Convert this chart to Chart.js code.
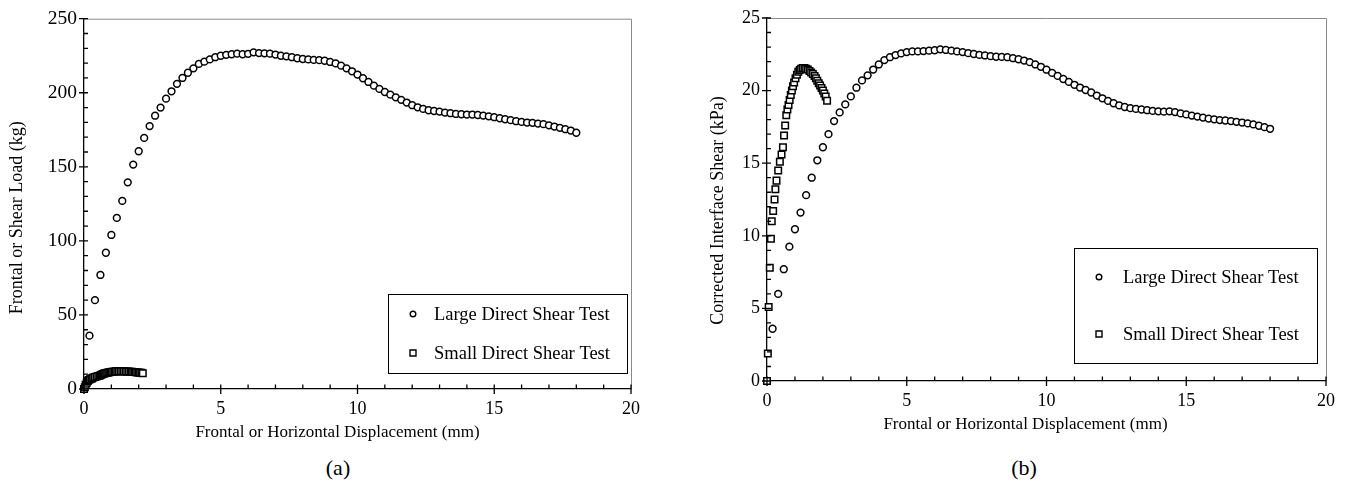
<!DOCTYPE html>
<html>
<head>
<meta charset="utf-8">
<script src="https://cdn.jsdelivr.net/npm/chart.js@4.4.0/dist/chart.umd.min.js"></script>
<style>
  body { margin: 0; background: #fff; width: 1349px; height: 490px; position: relative; overflow: hidden;
         font-family: "Liberation Serif", "Times New Roman", serif; }
  canvas { position: absolute; top: 0; }
  #chartA { left: 0; }
  #chartB { left: 680px; }
  .cap { position: absolute; top: 455px; font-size: 22px; color: #000; transform: translateX(-50%); line-height: 26px; }
</style>
</head>
<body>
<canvas id="chartA" width="660" height="450"></canvas>
<canvas id="chartB" width="669" height="450"></canvas>
<div class="cap" style="left:338px">(a)</div>
<div class="cap" style="left:1024px">(b)</div>
<script>
// displacement (mm) for the large direct shear test
const largeDisp = [
    0, 0.2, 0.4, 0.6, 0.8, 1.0, 1.2, 1.4, 1.6, 1.8,
    2.0, 2.2, 2.4, 2.6, 2.8, 3.0, 3.2, 3.4, 3.6, 3.8,
    4.0, 4.2, 4.4, 4.6, 4.8, 5.0, 5.2, 5.4, 5.6, 5.8,
    6.0, 6.2, 6.4, 6.6, 6.8, 7.0, 7.2, 7.4, 7.6, 7.8,
    8.0, 8.2, 8.4, 8.6, 8.8, 9.0, 9.2, 9.4, 9.6, 9.8,
    10.0, 10.2, 10.4, 10.6, 10.8, 11.0, 11.2, 11.4, 11.6, 11.8,
    12.0, 12.2, 12.4, 12.6, 12.8, 13.0, 13.2, 13.4, 13.6, 13.8,
    14.0, 14.2, 14.4, 14.6, 14.8, 15.0, 15.2, 15.4, 15.6, 15.8,
    16.0, 16.2, 16.4, 16.6, 16.8, 17.0, 17.2, 17.4, 17.6, 17.8,
    18.0
];
// (a) frontal / shear load, kg
const largeLoad = [
    0, 36, 60, 77, 92, 104, 115.5, 127, 139.5, 151.5,
    160.5, 169.5, 177.5, 184.5, 190, 196, 201, 206, 210, 213.5,
    216.5, 219.5, 221, 222.5, 224, 225, 225.6, 226, 226.4, 226,
    226.3, 227.3, 226.8, 226.6, 226.4, 225.8, 225, 224.6, 224, 223.3,
    222.8, 222.5, 222.2, 222, 221.6, 220.8, 219.8, 218.3, 216.5, 214.5,
    212.3, 209.8, 207.3, 204.8, 202.6, 200.5, 198.7, 196.9, 195.2, 193.4,
    191.6, 190.2, 189.1, 188.2, 187.7, 187.3, 186.6, 186.2, 185.7, 185.5,
    185.3, 185.3, 185, 184.6, 184.1, 183.5, 182.8, 182.1, 181.5, 180.8,
    180.3, 179.9, 179.7, 179.2, 178.8, 178, 177.2, 176.3, 175.4, 174.5,
    173
];
// (b) corrected interface shear, kPa
const largeShear = [
    0, 3.6, 6.0, 7.7, 9.25, 10.45, 11.6, 12.8, 14.0, 15.2,
    16.1, 17.0, 17.9, 18.5, 19.05, 19.6, 20.2, 20.7, 21.05, 21.45,
    21.8, 22.1, 22.3, 22.45, 22.56, 22.65, 22.7, 22.7, 22.72, 22.75,
    22.78, 22.84, 22.8, 22.75, 22.7, 22.65, 22.58, 22.52, 22.46, 22.42,
    22.37, 22.33, 22.32, 22.3, 22.23, 22.16, 22.07, 21.96, 21.8, 21.64,
    21.44, 21.22, 21.01, 20.8, 20.6, 20.4, 20.21, 20.04, 19.87, 19.66,
    19.47, 19.29, 19.13, 18.98, 18.87, 18.79, 18.74, 18.7, 18.65, 18.6,
    18.57, 18.55, 18.57, 18.52, 18.43, 18.36, 18.28, 18.21, 18.14, 18.07,
    18.02, 17.97, 17.94, 17.9, 17.85, 17.8, 17.74, 17.67, 17.58, 17.48,
    17.37
];

// small direct shear test
const smallDisp = [
    0, 0.03, 0.06, 0.10, 0.14, 0.17, 0.22, 0.27, 0.30, 0.34,
    0.40, 0.46, 0.52, 0.57, 0.61, 0.65, 0.69, 0.73, 0.77, 0.81,
    0.85, 0.89, 0.93, 0.97, 1.02, 1.07, 1.12, 1.17, 1.22, 1.28,
    1.34, 1.40, 1.46, 1.52, 1.58, 1.64, 1.70, 1.75, 1.80, 1.85,
    1.90, 1.95, 2.00, 2.05, 2.10, 2.15
];
const smallLoad = [
    0, 1.1, 2.8, 4.3, 5.4, 6.1, 6.5, 6.9, 7.3, 7.7,
    8.1, 8.4, 8.7, 8.9, 9.4, 9.8, 10.2, 10.4, 10.6, 10.8,
    10.9, 11.1, 11.3, 11.4, 11.6, 11.7, 11.8, 11.9, 11.95, 12.0,
    12.0, 11.95, 11.9, 11.85, 11.8, 11.75, 11.65, 11.6, 11.5, 11.4,
    11.3, 11.2, 11.1, 11.0, 10.9, 10.7
];
const smallShear = [
    0, 1.9, 5.1, 7.8, 9.8, 11.0, 11.7, 12.5, 13.2, 13.8,
    14.5, 15.1, 15.6, 16.1, 16.9, 17.6, 18.3, 18.7, 19.0, 19.35,
    19.7, 20.0, 20.3, 20.55, 20.85, 21.1, 21.3, 21.42, 21.5, 21.55,
    21.55, 21.5, 21.45, 21.35, 21.25, 21.15, 21.0, 20.85, 20.68, 20.5,
    20.35, 20.18, 20.0, 19.8, 19.6, 19.3
];

const seriesNames = ['Large Direct Shear Test', 'Small Direct Shear Test'];
const xTicks = [0, 5, 10, 15, 20];
const loadTicks = [0, 50, 100, 150, 200, 250];
const shearTicks = [0, 5, 10, 15, 20, 25];

const FONT = '"Liberation Serif", "Times New Roman", serif';

const toXY = (xs, ys) => xs.map((v, i) => ({ x: v, y: ys[i] }));

// frame, minor ticks, axis titles and boxed legend
const frameDeco = {
    id: 'frameDeco',
    afterDraw(chart, args, o) {
        const { ctx, chartArea: a } = chart;
        const x = chart.scales.x, y = chart.scales.y;
        ctx.save();
        ctx.strokeStyle = '#8a8a8a';
        ctx.lineWidth = 1;
        ctx.beginPath();
        ctx.moveTo(a.left, a.top + 0.5);
        ctx.lineTo(a.right + 0.5, a.top + 0.5);
        ctx.lineTo(a.right + 0.5, a.bottom);
        ctx.stroke();

        ctx.strokeStyle = '#000';
        ctx.lineWidth = 1.3;
        ctx.beginPath();
        let n = Math.round((x.max - x.min) / o.xMinor);
        for (let i = 0; i <= n; i++) {
            const px = x.getPixelForValue(x.min + i * o.xMinor);
            const major = i % o.xEvery === 0;
            ctx.moveTo(px, a.bottom - 4.5);
            ctx.lineTo(px, major ? a.bottom + 5 : a.bottom);
        }
        n = Math.round((y.max - y.min) / o.yMinor);
        for (let i = 0; i <= n; i++) {
            const py = y.getPixelForValue(y.min + i * o.yMinor);
            const major = i % o.yEvery === 0;
            ctx.moveTo(major ? a.left - 5 : a.left, py);
            ctx.lineTo(a.left + 4, py);
        }
        ctx.stroke();

        // axis titles
        ctx.fillStyle = '#000';
        ctx.font = '17px ' + FONT;
        ctx.textAlign = 'center';
        ctx.textBaseline = 'middle';
        ctx.fillText(o.xTitle, (a.left + a.right) / 2 + o.xTitleShift, o.xTitleY);
        ctx.save();
        ctx.font = '18px ' + FONT;
        ctx.translate(o.yTitleX, (a.top + a.bottom) / 2 + o.yTitleShift);
        ctx.rotate(-Math.PI / 2);
        ctx.fillText(o.yTitle, 0, 0);
        ctx.restore();

        // legend box
        const L = o.legend;
        const bx = a.right - L.right - L.w, by = a.bottom - L.bottom - L.h;
        ctx.fillStyle = '#fff';
        ctx.fillRect(bx, by, L.w, L.h);
        ctx.strokeStyle = '#000';
        ctx.lineWidth = 1;
        ctx.strokeRect(Math.round(bx) + 0.5, Math.round(by) + 0.5, L.w, L.h);
        ctx.font = '18.5px ' + FONT;
        ctx.textAlign = 'left';
        ctx.fillStyle = '#000';
        seriesNames.forEach((name, i) => {
            const ds = chart.data.datasets.find(d => d.label === name);
            const my = by + L.rows[i];
            const mx = bx + L.markX;
            ctx.lineWidth = 1.4;
            ctx.beginPath();
            if (ds.pointStyle === 'rect') {
                ctx.rect(mx - 3, my - 3, 6, 6);
            } else {
                ctx.arc(mx, my, 2.8, 0, Math.PI * 2);
            }
            ctx.stroke();
            ctx.fillText(name, bx + L.textX, my + 1);
        });
        ctx.restore();
    }
};

function makeChart(id, yData, yTicks, yMax, box) {
    return new Chart(document.getElementById(id), {
        type: 'scatter',
        data: {
            datasets: [{
                label: seriesNames[0],
                data: toXY(largeDisp, yData.large),
                pointStyle: 'circle',
                pointRadius: 3.4,
                pointBorderWidth: 1.5,
                pointBackgroundColor: '#fff',
                pointBorderColor: '#000',
                order: 1,
                clip: false
            }, {
                label: seriesNames[1],
                data: toXY(smallDisp, yData.small),
                pointStyle: 'rect',
                pointRadius: 4.6,
                pointBorderWidth: 1.5,
                pointBackgroundColor: '#fff',
                pointBorderColor: '#000',
                order: 0,
                clip: false
            }]
        },
        options: {
            responsive: false,
            animation: false,
            devicePixelRatio: 1,
            layout: { padding: { top: 18, right: box.padRight, left: 0, bottom: 0 } },
            plugins: {
                legend: { display: false },
                tooltip: { enabled: false },
                frameDeco: box.deco
            },
            scales: {
                x: {
                    type: 'linear',
                    min: 0, max: 20,
                    afterBuildTicks: s => { s.ticks = xTicks.map(v => ({ value: v })); },
                    afterFit: s => { s.height = box.xHeight; },
                    grid: { display: false, drawTicks: false },
                    border: { display: true, color: '#000', width: 1.3 },
                    ticks: { color: '#000', font: { family: FONT, size: 18 }, padding: 9, maxRotation: 0 }
                },
                y: {
                    type: 'linear',
                    min: 0, max: yMax,
                    afterBuildTicks: s => { s.ticks = yTicks.map(v => ({ value: v })); },
                    afterFit: s => { s.width = box.yWidth; },
                    grid: { display: false, drawTicks: false },
                    border: { display: true, color: '#000', width: 1.3 },
                    ticks: { color: '#000', font: { family: FONT, size: box.yTickSize }, padding: 7 }
                }
            }
        },
        plugins: [frameDeco]
    });
}

makeChart('chartA', { large: largeLoad, small: smallLoad }, loadTicks, 250, {
    padRight: 29, xHeight: 61, yWidth: 84, yTickSize: 19.5,
    deco: {
        xMinor: 1, xEvery: 5, yMinor: 10, yEvery: 5,
        xTitle: 'Frontal or Horizontal Displacement (mm)', xTitleShift: -20, xTitleY: 433,
        yTitle: 'Frontal or Shear Load (kg)', yTitleX: 17, yTitleShift: 14,
        legend: { w: 239, h: 79, right: 4, bottom: 16, rows: [20, 59], markX: 25, textX: 46 }
    }
});

makeChart('chartB', { large: largeShear, small: smallShear }, shearTicks, 25, {
    padRight: 23, xHeight: 69, yWidth: 87, yTickSize: 18,
    deco: {
        xMinor: 1, xEvery: 5, yMinor: 1, yEvery: 5,
        xTitle: 'Frontal or Horizontal Displacement (mm)', xTitleShift: -21, xTitleY: 425,
        yTitle: 'Corrected Interface Shear (kPa)', yTitleX: 38, yTitleShift: 11,
        legend: { w: 243, h: 115, right: 9, bottom: 18, rows: [29, 86], markX: 25, textX: 49 }
    }
});
</script>
</body>
</html>
